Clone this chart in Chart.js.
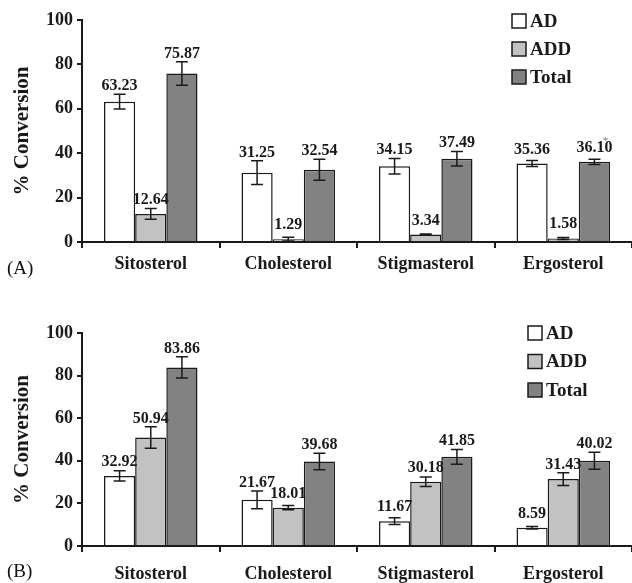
<!DOCTYPE html>
<html>
<head>
<meta charset="utf-8">
<script src="https://cdn.jsdelivr.net/npm/chart.js@4.4.1/dist/chart.umd.min.js"></script>
<style>
  html, body { margin: 0; padding: 0; background: #fff; }
  #wrap { position: relative; width: 632px; height: 583px; overflow: hidden; }
  .panel { position: absolute; left: 0; width: 632px; }
  .tag { position: absolute; left: 7px; font-family: "Liberation Serif", serif; font-size: 19px; color: #111; }
</style>
</head>
<body>
<div id="wrap">
  <div class="panel" style="top:0;height:290px;"><canvas id="cA" width="632" height="290"></canvas></div>
  <div class="panel" style="top:290px;height:293px;"><canvas id="cB" width="632" height="293"></canvas></div>
  <div class="tag" style="top:257px;">(A)</div>
  <div class="tag" style="top:560px;">(B)</div>
</div>
<script>
// ---- data ----
const categories = ["Sitosterol", "Cholesterol", "Stigmasterol", "Ergosterol"];
const seriesNames = ["AD", "ADD", "Total"];
const yTicks = [0, 20, 40, 60, 80, 100];

// Panel A
const adA = [63.23, 31.25, 34.15, 35.36];
const addA = [12.64, 1.29, 3.34, 1.58];
const totalA = [75.87, 32.54, 37.49, 36.10];
const adErrA = [3.3, 5.3, 3.5, 1.3];
const addErrA = [2.4, 0.8, 0.3, 0.5];
const totalErrA = [5.3, 4.7, 3.3, 1.2];
const starsA = [[2, 3]]; // [series, category] with asterisk

// Panel B
const adB = [32.92, 21.67, 11.67, 8.59];
const addB = [50.94, 18.01, 30.18, 31.43];
const totalB = [83.86, 39.68, 41.85, 40.02];
const adErrB = [2.4, 4.2, 1.6, 0.6];
const addErrB = [5.0, 1.0, 2.2, 3.0];
const totalErrB = [5.0, 3.9, 3.5, 4.0];
const starsB = [];

// ---- styles ----
const FONT = "'Liberation Serif', 'Times New Roman', serif";
const fills = ["#ffffff", "#c2c2c2", "#828282"];
const INK = "#1a1a1a";

const errPlugin = {
  id: "errLabels",
  afterDatasetsDraw(chart, args, opts) {
    const ctx = chart.ctx;
    const ys = chart.scales.y;
    ctx.save();
    chart.data.datasets.forEach((ds, di) => {
      const meta = chart.getDatasetMeta(di);
      meta.data.forEach((el, i) => {
        const v = ds.data[i], e = ds.errors[i];
        const x = el.x;
        const yt = ys.getPixelForValue(v + e);
        const yb = ys.getPixelForValue(Math.max(0, v - e));
        ctx.strokeStyle = INK;
        ctx.lineWidth = 1.5;
        ctx.beginPath();
        ctx.moveTo(x, yt); ctx.lineTo(x, yb);
        ctx.moveTo(x - 6, yt); ctx.lineTo(x + 6, yt);
        ctx.moveTo(x - 6, yb); ctx.lineTo(x + 6, yb);
        ctx.stroke();
        ctx.fillStyle = INK;
        ctx.font = "bold 16px " + FONT;
        ctx.textAlign = "center";
        ctx.textBaseline = "alphabetic";
        const ly = Math.min(yt, ys.getPixelForValue(v) - 6) - 4;
        ctx.fillText(v.toFixed(2), x, ly);
        if (opts.stars.some(s => s[0] === di && s[1] === i)) {
          ctx.fillStyle = "#777";
          ctx.font = "11px " + FONT;
          ctx.fillText("*", x + 11, ly - 8);
        }
      });
    });
    ctx.restore();
  }
};

const legendPlugin = {
  id: "boxLegend",
  afterDraw(chart, args, opts) {
    const ctx = chart.ctx;
    ctx.save();
    chart.data.datasets.forEach((ds, i) => {
      const cy = opts.y + i * opts.gap;
      ctx.fillStyle = ds.backgroundColor;
      ctx.fillRect(opts.x, cy - 7, 14, 14);
      ctx.strokeStyle = INK;
      ctx.lineWidth = 1.5;
      ctx.strokeRect(opts.x, cy - 7, 14, 14);
      ctx.fillStyle = INK;
      ctx.font = "bold 19px " + FONT;
      ctx.textAlign = "left";
      ctx.textBaseline = "middle";
      ctx.fillText(ds.label, opts.x + 18, cy + 1);
    });
    ctx.restore();
  }
};

function makeChart(id, ad, add, total, adE, addE, totE, stars, cfg) {
  const vals = [ad, add, total], errs = [adE, addE, totE];
  return new Chart(document.getElementById(id), {
    type: "bar",
    data: {
      labels: categories,
      datasets: seriesNames.map((n, k) => ({
        label: n,
        data: vals[k],
        errors: errs[k],
        backgroundColor: fills[k],
        borderColor: INK,
        borderWidth: 1.5,
        categoryPercentage: 0.68,
        barPercentage: 1.0
      }))
    },
    options: {
      responsive: false,
      animation: false,
      devicePixelRatio: 1,
      layout: { padding: { top: cfg.padTop, left: 0, right: 0, bottom: 0 } },
      plugins: {
        legend: { display: false },
        tooltip: { enabled: false },
        errLabels: { stars: stars },
        boxLegend: { x: cfg.legX, y: cfg.legY, gap: cfg.legGap }
      },
      scales: {
        x: {
          offset: true,
          grid: { offset: true, drawOnChartArea: false, drawTicks: true, tickLength: 6, color: INK, lineWidth: 2 },
          border: { display: true, color: INK, width: 2 },
          ticks: { color: INK, font: { family: FONT, size: 18, weight: "bold" }, padding: cfg.xPad, maxRotation: 0 },
          afterFit: s => { s.height = cfg.xH; }
        },
        y: {
          min: 0, max: 100,
          afterBuildTicks: s => { s.ticks = yTicks.map(v => ({ value: v })); },
          grid: { drawOnChartArea: false, drawTicks: true, tickLength: 5, color: INK, lineWidth: 2 },
          border: { display: true, color: INK, width: 2 },
          ticks: { color: INK, font: { family: FONT, size: 18, weight: "bold" }, padding: 4 },
          title: { display: true, text: "% Conversion", color: INK, font: { family: FONT, size: 21, weight: "bold" }, padding: { top: 10, bottom: 0 } },
          afterFit: s => { s.width = 82; }
        }
      }
    },
    plugins: [errPlugin, legendPlugin]
  });
}

makeChart("cA", adA, addA, totalA, adErrA, addErrA, totalErrA, starsA,
  { padTop: 20, xH: 48, xPad: 6, legX: 512, legY: 21, legGap: 28 });
makeChart("cB", adB, addB, totalB, adErrB, addErrB, totalErrB, starsB,
  { padTop: 43, xH: 37, xPad: 12, legX: 528, legY: 43, legGap: 28.5 });
</script>
</body>
</html>
